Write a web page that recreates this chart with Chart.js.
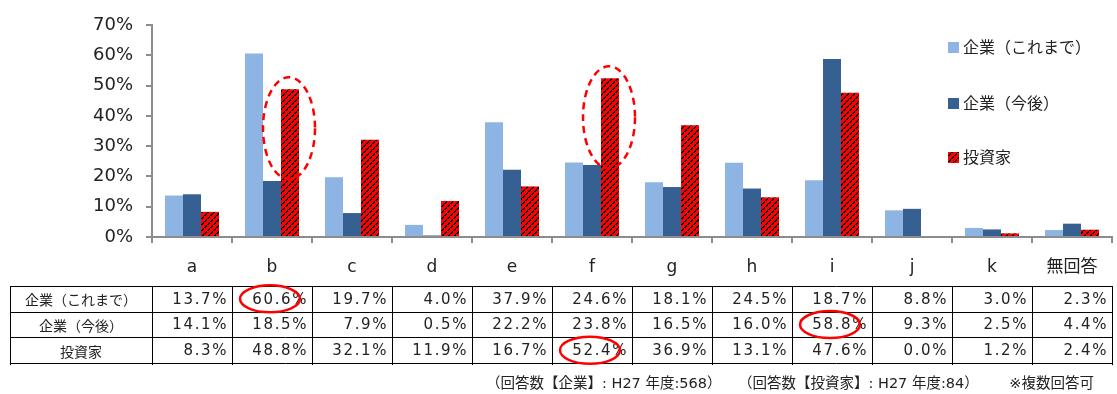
<!DOCTYPE html>
<html>
<head>
<meta charset="utf-8">
<script src="https://cdn.jsdelivr.net/npm/chart.js@4"></script>
<style>
  body { margin: 0; background: #fff; }
  #wrap { width: 1117px; height: 394px; position: relative; }
</style>
</head>
<body>
<div id="wrap"><canvas id="chart"></canvas></div>
<script>
const categories = ["a", "b", "c", "d", "e", "f", "g", "h", "i", "j", "k", "無回答"];
const seriesNames = ["企業（これまで）", "企業（今後）", "投資家"];
const companyPast = [13.7, 60.6, 19.7, 4.0, 37.9, 24.6, 18.1, 24.5, 18.7, 8.8, 3.0, 2.3];
const companyFuture = [14.1, 18.5, 7.9, 0.5, 22.2, 23.8, 16.5, 16.0, 58.8, 9.3, 2.5, 4.4];
const investors = [8.3, 48.8, 32.1, 11.9, 16.7, 52.4, 36.9, 13.1, 47.6, 0.0, 1.2, 2.4];
const yTicks = [0, 10, 20, 30, 40, 50, 60, 70];

// highlighted things in the source
const barCircles = [1, 5];                 // investor bars with dashed ellipse
const cellCircles = [[0, 1], [2, 5], [1, 8]]; // [row, col] circled in table

const footnotes = ["（回答数【企業】: H27 年度:568）", "（回答数【投資家】: H27 年度:84）", "※複数回答可"];

const FONT = "'DejaVu Sans', 'Noto Sans CJK JP', sans-serif";
const JP = "'Noto Sans CJK JP', sans-serif";

function makeHatch() {
  const c = document.createElement("canvas");
  c.width = 6; c.height = 6;
  const g = c.getContext("2d");
  g.fillStyle = "#ff0000";
  g.fillRect(0, 0, 6, 6);
  g.fillStyle = "#000";
  for (let i = 0; i < 6; i++) {
    g.fillRect(i, 5 - i, i % 3 === 2 ? 1 : 2, 1);
  }
  return g.createPattern(c, "repeat");
}
const hatch = makeHatch();
const colors = ["#8db4e2", "#376092", hatch];
const seriesData = [companyPast, companyFuture, investors];

const overlay = {
  id: "overlay",
  afterDraw(chart) {
    const { ctx, chartArea, scales: { x } } = chart;
    const step = x.getPixelForValue(1) - x.getPixelForValue(0);
    ctx.save();

    // dashed ellipses on investor bars
    const meta = chart.getDatasetMeta(2);
    ctx.strokeStyle = "#ff0000";
    ctx.lineWidth = 2.5;
    ctx.setLineDash([7, 5]);
    barCircles.forEach(i => {
      const bar = meta.data[i];
      ctx.beginPath();
      ctx.ellipse(bar.x - 1, bar.y + 39, 26, 51, 0, 0, Math.PI * 2);
      ctx.stroke();
    });
    ctx.setLineDash([]);

    // legend
    const lx = 948, ly = [47, 103, 157];
    ctx.font = "16px " + JP;
    ctx.textBaseline = "middle";
    ctx.textAlign = "left";
    seriesNames.forEach((n, i) => {
      ctx.fillStyle = colors[i];
      ctx.fillRect(lx, ly[i] - 5, 11, 11);
      ctx.fillStyle = "#222";
      ctx.fillText(n, lx + 15, ly[i]);
    });

    // data table
    const top = chartArea.bottom + 49, rowH = 25.7, left = 10;
    const right = x.getPixelForValue(categories.length - 1) + step / 2;
    ctx.strokeStyle = "#000";
    ctx.lineWidth = 1;
    for (let r = 0; r <= 3; r++) {
      const y = Math.round(top + r * rowH) + 0.5;
      ctx.beginPath(); ctx.moveTo(left, y); ctx.lineTo(right, y); ctx.stroke();
    }
    const vx = [left, chartArea.left];
    for (let i = 0; i < categories.length; i++) vx.push(x.getPixelForValue(i) + step / 2);
    vx.forEach(v => {
      const xx = Math.round(v) + 0.5;
      ctx.beginPath(); ctx.moveTo(xx, top); ctx.lineTo(xx, top + 3 * rowH + 2); ctx.stroke();
    });

    ctx.fillStyle = "#222";
    seriesNames.forEach((n, r) => {
      const cy = top + (r + 0.5) * rowH + 1;
      ctx.font = "14px " + JP;
      ctx.textAlign = "center";
      ctx.letterSpacing = "0px";
      ctx.fillText(n, (left + chartArea.left) / 2, cy);
      ctx.font = "15px " + FONT;
      ctx.textAlign = "right";
      ctx.letterSpacing = "1.6px";
      seriesData[r].forEach((v, i) => {
        const cr = x.getPixelForValue(i) + step / 2;
        ctx.fillText(v.toFixed(1) + "%", cr - 4, cy);
      });
    });
    ctx.letterSpacing = "0px";

    // red circles in table
    ctx.strokeStyle = "#ff0000";
    ctx.lineWidth = 2.5;
    cellCircles.forEach(([r, c]) => {
      const cx = x.getPixelForValue(c) - 2;
      const cy = top + (r + 0.5) * rowH;
      ctx.beginPath();
      ctx.ellipse(cx, cy, 30, 13.5, 0, 0, Math.PI * 2);
      ctx.stroke();
    });

    // footnotes
    ctx.fillStyle = "#222";
    ctx.font = "14.5px " + FONT;
    ctx.textAlign = "left";
    ctx.fillText(footnotes[0], 486, 384);
    ctx.fillText(footnotes[1], 738, 384);
    ctx.textAlign = "right";
    ctx.fillText(footnotes[2], 1094, 384);
    ctx.restore();
  }
};

new Chart(document.getElementById("chart"), {
  type: "bar",
  data: {
    labels: categories,
    datasets: seriesData.map((d, i) => ({
      label: seriesNames[i],
      data: d,
      backgroundColor: colors[i],
      borderWidth: 0,
      categoryPercentage: 0.675,
      barPercentage: 1
    }))
  },
  options: {
    responsive: true,
    maintainAspectRatio: false,
    animation: false,
    layout: { padding: { top: 25, right: 5, left: 0, bottom: 0 } },
    plugins: { legend: { display: false }, tooltip: { enabled: false } },
    scales: {
      x: {
        afterFit: s => { s.height = 157; },
        grid: { offset: true, drawOnChartArea: false, tickLength: 6, color: "#8c8c8c", lineWidth: 2 },
        border: { color: "#8c8c8c", width: 2 },
        ticks: { color: "#222", font: { family: FONT, size: 17 }, padding: 14, maxRotation: 0 }
      },
      y: {
        min: 0, max: 70,
        afterFit: s => { s.width = 152; },
        afterBuildTicks: s => { s.ticks = yTicks.map(v => ({ value: v })); },
        grid: { drawOnChartArea: false, tickLength: 6, color: "#8c8c8c", lineWidth: 2 },
        border: { color: "#8c8c8c", width: 2 },
        ticks: { color: "#222", font: { family: FONT, size: 18 }, padding: 13, callback: v => v + "%" }
      }
    }
  },
  plugins: [overlay]
});
</script>
</body>
</html>
